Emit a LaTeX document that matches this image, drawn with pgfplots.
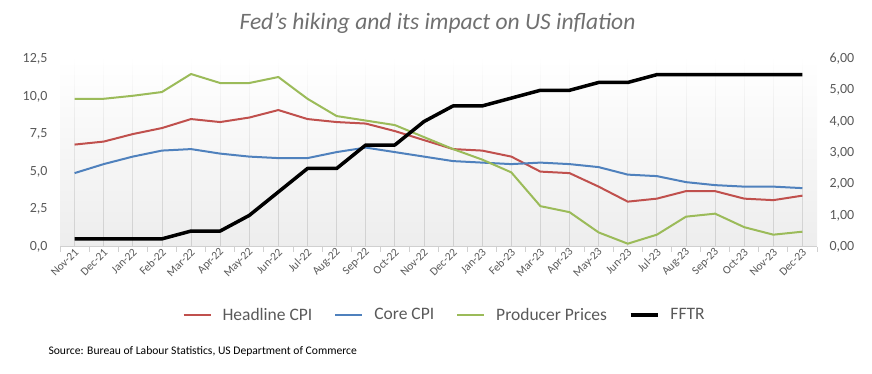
\documentclass[border=0pt]{standalone}
\usepackage{fontspec}
\setmainfont{Carlito}
\usepackage{pgfplots}
\usepackage{pgfplotstable}
\usetikzlibrary{fadings}
\pgfplotsset{compat=1.18}
\definecolor{cRed}{HTML}{C0504D}
\definecolor{cBlue}{HTML}{4F81BD}
\definecolor{cGreen}{HTML}{9BBB59}
\definecolor{cText}{HTML}{595959}
\definecolor{cTitle}{HTML}{707070}
\definecolor{cGrid}{HTML}{D0D0D0}

\pgfplotstableread{
x headline core ppi fftr
0  6.8 4.9 9.85 0.25
1  7.0 5.5 9.85 0.25
2  7.5 6.0 10.05 0.25
3  7.9 6.4 10.3 0.25
4  8.5 6.5 11.5 0.5
5  8.3 6.2 10.9 0.5
6  8.6 6.0 10.9 1.0
7  9.1 5.9 11.3 1.75
8  8.5 5.9 9.85 2.5
9  8.3 6.3 8.7 2.5
10 8.2 6.6 8.4 3.25
11 7.7 6.3 8.1 3.25
12 7.1 6.0 7.3 4.0
13 6.5 5.7 6.5 4.5
14 6.4 5.6 5.8 4.5
15 6.0 5.5 4.95 4.75
16 5.0 5.6 2.7 5.0
17 4.9 5.5 2.3 5.0
18 4.0 5.3 0.95 5.25
19 3.0 4.8 0.2 5.25
20 3.2 4.7 0.8 5.5
21 3.7 4.3 2.0 5.5
22 3.7 4.1 2.2 5.5
23 3.2 4.0 1.3 5.5
24 3.1 4.0 0.8 5.5
25 3.4 3.9 1.0 5.5
}\datatable

\pgfplotsset{
  common/.style={
    scale only axis, width=757pt, height=187.7pt,
    at={(60pt,127.3pt)}, anchor=south west,
    xmin=-0.5, xmax=25.5, ymin=0,
  },
}

\begin{document}
\begin{tikzpicture}[x=1pt,y=1pt]
\path[use as bounding box] (0,0) rectangle (872,374);
\node[font=\fontsize{23.5}{28}\selectfont\itshape, text=cTitle] at (437.5,351) {Fed's hiking and its impact on US inflation};

\begin{axis}[common,
  ymax=12.5, ytick={0,2.5,5,7.5,10,12.5},
  axis y line*=left, y axis line style={draw=none},
  axis x line*=bottom, x axis line style={draw=cGrid, line width=0.8pt},
  axis background/.style={shade, top color=white, bottom color=black!7},
  xtick={0,...,25},
  xticklabels={Nov-21,Dec-21,Jan-22,Feb-22,Mar-22,Apr-22,May-22,Jun-22,Jul-22,Aug-22,Sep-22,Oct-22,Nov-22,Dec-22,Jan-23,Feb-23,Mar-23,Apr-23,May-23,Jun-23,Jul-23,Aug-23,Sep-23,Oct-23,Nov-23,Dec-23},
  xmajorgrids, major grid style={draw=cGrid, line width=0.8pt, path fading=north},
  major tick length=0pt,
  minor xtick={-0.5,0.5,...,25.5},
  minor tick length=5pt, tick align=outside,
  minor tick style={draw=cGrid, line width=0.8pt},
  xticklabel style={rotate=45, anchor=east, font=\fontsize{11.5}{13}\selectfont, text=cText, inner sep=1pt, yshift=-4pt},
  yticklabel style={/pgf/number format/fixed, /pgf/number format/fixed zerofill, /pgf/number format/precision=1, /pgf/number format/use comma, /pgf/number format/assume math mode=true, font=\fontsize{14}{16}\selectfont, text=cText, xshift=-9pt},
  legend columns=4,
  legend style={at={(0.508,-0.364)}, anchor=center, draw=none, fill=none,
    font=\fontsize{17.5}{20}\selectfont, text=cText,
    /tikz/every odd column/.append style={column sep=9pt},
    /tikz/every even column/.append style={column sep=20pt}},
  legend image code/.code={\draw[#1] (0pt,0pt) -- (27pt,0pt);},
  every axis plot/.append style={line join=round},
]
\addplot[cRed, line width=2pt] table[x=x, y=headline] {\datatable};
\addlegendentry{Headline CPI}
\addplot[cBlue, line width=2pt] table[x=x, y=core] {\datatable};
\addlegendentry{Core CPI}
\addplot[cGreen, line width=2pt] table[x=x, y=ppi] {\datatable};
\addlegendentry{Producer Prices}
\addlegendimage{black, line width=3.5pt}
\addlegendentry{FFTR}
\end{axis}

\begin{axis}[common,
  ymax=6, ytick={0,1,2,3,4,5,6},
  axis y line*=right, y axis line style={draw=none},
  axis x line=none, xtick=\empty,
  major tick length=0pt,
  yticklabel style={/pgf/number format/fixed, /pgf/number format/fixed zerofill, /pgf/number format/precision=2, /pgf/number format/use comma, /pgf/number format/assume math mode=true, font=\fontsize{14}{16}\selectfont, text=cText, xshift=9pt},
]
\addplot[black, line width=3.5pt, line join=round] table[x=x, y=fftr] {\datatable};
\end{axis}

\node[anchor=base west, font=\fontsize{11.6}{13}\selectfont] at (45,19) {Source: Bureau of Labour Statistics, US Department of Commerce};
\end{tikzpicture}
\end{document}
